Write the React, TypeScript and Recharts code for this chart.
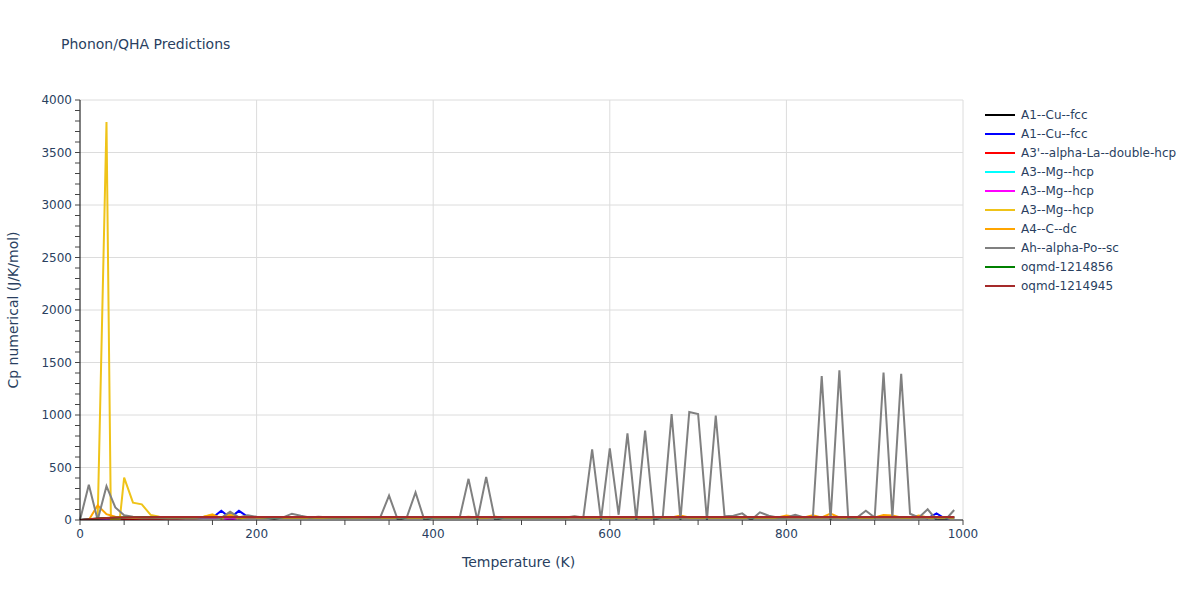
import React from 'react';
import { LineChart, Line, XAxis, YAxis, CartesianGrid } from 'recharts';

// Temperatures (K)
const temperatures = [
  0, 10, 20, 30, 40, 50, 60, 70, 80, 90,
  100, 110, 120, 130, 140, 150, 160, 170, 180, 190,
  200, 210, 220, 230, 240, 250, 260, 270, 280, 290,
  300, 310, 320, 330, 340, 350, 360, 370, 380, 390,
  400, 410, 420, 430, 440, 450, 460, 470, 480, 490,
  500, 510, 520, 530, 540, 550, 560, 570, 580, 590,
  600, 610, 620, 630, 640, 650, 660, 670, 680, 690,
  700, 710, 720, 730, 740, 750, 760, 770, 780, 790,
  800, 810, 820, 830, 840, 850, 860, 870, 880, 890,
  900, 910, 920, 930, 940, 950, 960, 970, 980, 990,
];

const cuFccA = [
  0, 4, 10, 15, 19, 21, 22, 23, 23, 24,
  24, 24, 24, 24, 24, 24, 24, 24, 24, 24,
  24, 24, 24, 24, 24, 24, 24, 24, 24, 24,
  24, 24, 24, 24, 24, 24, 24, 24, 24, 24,
  24, 24, 24, 24, 24, 24, 24, 24, 24, 24,
  24, 24, 24, 24, 24, 24, 24, 24, 24, 24,
  24, 24, 24, 24, 24, 24, 24, 24, 24, 24,
  24, 24, 24, 24, 24, 24, 24, 24, 24, 24,
  24, 24, 24, 24, 24, 24, 24, 24, 24, 24,
  24, 24, 24, 24, 24, 24, 24, 24, 24, 24,
];

const cuFccB = [
  0, 5, 11, 16, 19, 21, 22, 23, 23, 24,
  24, 24, 24, 24, 24, 22, 88, 20, 87, 30,
  24, 24, 24, 24, 24, 24, 24, 24, 24, 24,
  24, 24, 24, 24, 24, 24, 24, 24, 24, 24,
  24, 24, 24, 24, 24, 24, 24, 24, 24, 24,
  24, 24, 24, 24, 24, 24, 24, 24, 24, 24,
  24, 24, 24, 24, 24, 24, 24, 24, 24, 24,
  24, 24, 24, 24, 24, 24, 24, 24, 24, 24,
  24, 24, 24, 24, 24, 24, 24, 24, 24, 24,
  24, 24, 24, 24, 24, 24, 16, 63, 12, 24,
];

const laDhcp = [
  0, 1, 3, 5, 7, 9, 10, 11, 12, 13,
  14, 15, 16, 17, 18, 19, 19, 20, 20, 21,
  21, 21, 22, 22, 22, 23, 23, 23, 23, 23,
  24, 24, 24, 24, 24, 24, 24, 24, 24, 24,
  24, 24, 24, 24, 24, 24, 24, 24, 24, 24,
  24, 24, 24, 24, 24, 24, 24, 24, 24, 24,
  24, 24, 24, 24, 24, 24, 24, 24, 24, 24,
  24, 24, 24, 24, 24, 24, 24, 24, 24, 24,
  24, 24, 24, 24, 24, 24, 24, 24, 24, 24,
  24, 24, 24, 24, 24, 24, 24, 24, 24, 24,
];

const mgHcpA = [
  0, 3, 8, 13, 17, 19, 21, 22, 23, 23,
  24, 24, 24, 24, 24, 24, 24, 24, 24, 24,
  24, 24, 24, 24, 24, 24, 24, 24, 24, 24,
  24, 24, 24, 24, 24, 24, 24, 24, 24, 24,
  24, 24, 24, 24, 24, 24, 24, 24, 24, 24,
  24, 24, 24, 24, 24, 24, 24, 24, 24, 24,
  24, 24, 24, 24, 24, 24, 24, 24, 24, 24,
  24, 24, 24, 24, 24, 24, 24, 24, 24, 24,
  24, 24, 24, 24, 24, 24, 24, 24, 24, 24,
  24, 24, 24, 24, 24, 24, 24, 24, 24, 24,
];

const mgHcpB = [
  0, 3, 8, 13, 17, 19, 21, 22, 23, 23,
  24, 24, 24, 24, 24, 22, 20, 5, 20, 24,
  24, 24, 24, 24, 24, 24, 24, 24, 24, 24,
  24, 24, 24, 24, 24, 24, 24, 24, 24, 24,
  24, 24, 24, 24, 24, 24, 24, 24, 24, 24,
  24, 24, 24, 24, 24, 24, 24, 24, 24, 24,
  24, 24, 24, 24, 24, 24, 24, 24, 24, 24,
  24, 24, 24, 24, 24, 24, 24, 24, 24, 24,
  24, 24, 24, 24, 24, 24, 24, 24, 24, 24,
  24, 24, 24, 24, 24, 24, 24, 24, 24, 24,
];

// the third A3--Mg--hcp run has a few extra low-temperature points
const mgHcpCTemps = [
  0, 10, 20, 30, 35, 40, 45, 50, 60, 70, 80, 90,
  100, 110, 120, 130, 140, 150, 160, 170, 180, 190,
  200, 300, 400, 500, 600, 700, 800, 900, 990,
];
const mgHcpC = [
  0, 0, 0, 3790, 0, 6, 4, 403, 165, 149, 48, 30,
  27, 26, 25, 25, 32, 55, 12, 60, 22, 28,
  25, 25, 25, 25, 25, 25, 25, 25, 25,
];

const cDc = [
  0, 0, 140, 55, 32, 24, 22, 22, 23, 24,
  24, 24, 24, 26, 30, 48, 20, 45, 15, 26,
  25, 25, 25, 25, 25, 25, 25, 25, 25, 25,
  25, 25, 25, 25, 25, 25, 25, 25, 25, 25,
  25, 25, 25, 25, 32, 25, 25, 30, 25, 25,
  25, 25, 25, 25, 25, 25, 30, 25, 25, 25,
  25, 25, 25, 25, 25, 25, 25, 25, 42, 25,
  25, 25, 25, 25, 25, 25, 25, 25, 25, 25,
  42, 30, 25, 45, 25, 62, 25, 25, 25, 25,
  25, 48, 44, 25, 25, 42, 25, 25, 25, 25,
];

const poSc = [
  0, 335, 0, 322, 120, 45, 30, 25, 25, 24,
  24, 24, 24, 24, 26, 28, 20, 78, 25, 45,
  30, 24, 10, 25, 60, 40, 24, 30, 26, 24,
  24, 26, 26, 24, 24, 232, 0, 24, 262, 0,
  24, 24, 24, 24, 392, 0, 410, 0, 24, 24,
  24, 24, 24, 24, 24, 24, 35, 24, 673, 0,
  683, 50, 825, 0, 851, 0, 30, 1009, 0, 1029,
  1010, 0, 995, 35, 40, 63, 0, 73, 40, 24,
  24, 50, 24, 30, 1372, 0, 1425, 20, 24, 88,
  24, 1404, 20, 1392, 60, 24, 102, 0, 0, 95,
];

const oqmd856 = [
  0, 7, 14, 19, 22, 24, 25, 26, 26, 27,
  27, 27, 27, 27, 27, 27, 27, 27, 27, 27,
  27, 27, 27, 27, 27, 27, 27, 27, 27, 27,
  27, 27, 27, 27, 27, 27, 27, 27, 27, 27,
  27, 27, 27, 27, 27, 27, 27, 27, 27, 27,
  27, 27, 27, 27, 27, 27, 27, 27, 27, 27,
  27, 27, 27, 27, 27, 27, 27, 27, 27, 27,
  27, 27, 27, 27, 27, 27, 27, 27, 27, 27,
  27, 27, 27, 27, 27, 27, 27, 27, 27, 27,
  27, 27, 27, 27, 27, 27, 27, 27, 27, 27,
];

const oqmd945 = [
  0, 8, 15, 20, 23, 25, 26, 27, 27, 28,
  28, 28, 28, 28, 28, 28, 28, 28, 28, 28,
  28, 28, 28, 28, 28, 28, 28, 28, 28, 28,
  28, 28, 28, 28, 28, 28, 28, 28, 28, 28,
  28, 28, 28, 28, 28, 28, 28, 28, 28, 28,
  28, 28, 28, 28, 28, 28, 28, 28, 28, 28,
  28, 28, 28, 28, 28, 28, 28, 28, 28, 28,
  28, 28, 28, 28, 28, 28, 28, 28, 28, 28,
  28, 28, 28, 28, 28, 28, 28, 28, 28, 28,
  28, 28, 28, 28, 28, 28, 28, 28, 28, 28,
];

const series = [
  { name: 'A1--Cu--fcc', color: '#000000', temps: temperatures, values: cuFccA },
  { name: 'A1--Cu--fcc', color: '#0000ff', temps: temperatures, values: cuFccB },
  { name: "A3'--alpha-La--double-hcp", color: '#ff0000', temps: temperatures, values: laDhcp },
  { name: 'A3--Mg--hcp', color: '#00ffff', temps: temperatures, values: mgHcpA },
  { name: 'A3--Mg--hcp', color: '#ff00ff', temps: temperatures, values: mgHcpB },
  { name: 'A3--Mg--hcp', color: '#efc319', temps: mgHcpCTemps, values: mgHcpC },
  { name: 'A4--C--dc', color: '#ffa500', temps: temperatures, values: cDc },
  { name: 'Ah--alpha-Po--sc', color: '#808080', temps: temperatures, values: poSc },
  { name: 'oqmd-1214856', color: '#008000', temps: temperatures, values: oqmd856 },
  { name: 'oqmd-1214945', color: '#a52a2a', temps: temperatures, values: oqmd945 },
];

const xTicks = [0, 50, 100, 150, 200, 250, 300, 350, 400, 450, 500, 550, 600, 650, 700, 750, 800, 850, 900, 950, 1000];
const xGrid = [200, 400, 600, 800, 1000];
const yTicks = [
  0, 100, 200, 300, 400, 500, 600, 700, 800, 900, 1000, 1100, 1200, 1300, 1400, 1500, 1600, 1700, 1800, 1900,
  2000, 2100, 2200, 2300, 2400, 2500, 2600, 2700, 2800, 2900, 3000, 3100, 3200, 3300, 3400, 3500, 3600, 3700,
  3800, 3900, 4000,
];
const yGrid = [500, 1000, 1500, 2000, 2500, 3000, 3500, 4000];

const font = '"DejaVu Sans", Verdana, sans-serif';
const textColor = '#2a3f5f';

const App = () => {
  return (
    <div style={{ position: 'absolute', left: 0, top: 0, width: 1200, height: 600, background: '#fff', fontFamily: font }}>
      <div style={{ position: 'absolute', left: 61, top: 36, fontSize: 14, color: textColor }}>
        Phonon/QHA Predictions
      </div>
      <LineChart width={1200} height={600} margin={{ top: 100, right: 237, bottom: 40, left: 20 }}>
        <CartesianGrid stroke="#dcdcdc" horizontalValues={yGrid} verticalValues={xGrid} />
        <XAxis
          dataKey="T"
          type="number"
          domain={[0, 1000]}
          ticks={xTicks}
          interval={0}
          height={40}
          tickSize={5}
          tickMargin={4}
          stroke="#000"
          tick={{ fontSize: 12, fill: textColor, fontFamily: font }}
          tickLine={{ stroke: '#444' }}
          tickFormatter={(v: number) => (v % 200 === 0 ? String(v) : '')}
          allowDuplicatedCategory={false}
        />
        <YAxis
          type="number"
          domain={[0, 4000]}
          ticks={yTicks}
          interval={0}
          width={60}
          tickSize={5}
          tickMargin={3}
          stroke="#000"
          tick={{ fontSize: 12, fill: textColor, fontFamily: font }}
          tickLine={{ stroke: '#444' }}
          tickFormatter={(v: number) => (v % 500 === 0 ? String(v) : '')}
          allowDataOverflow
        />
        {series.map((s, i) => (
          <Line
            key={i}
            type="linear"
            data={s.temps.map((t, j) => ({ T: t, v: s.values[j] }))}
            dataKey="v"
            name={s.name}
            stroke={s.color}
            strokeWidth={2}
            dot={false}
            isAnimationActive={false}
          />
        ))}
      </LineChart>
      <div style={{ position: 'absolute', left: 462, top: 554, fontSize: 14, color: textColor }}>
        Temperature (K)
      </div>
      <div
        style={{
          position: 'absolute',
          left: 13,
          top: 310,
          fontSize: 14,
          color: textColor,
          whiteSpace: 'nowrap',
          transform: 'translate(-50%, -50%) rotate(-90deg)',
        }}
      >
        Cp numerical (J/K/mol)
      </div>
      <div style={{ position: 'absolute', left: 985, top: 105 }}>
        {series.map((s, i) => (
          <div key={i} style={{ display: 'flex', alignItems: 'center', height: 19 }}>
            <div style={{ width: 30, height: 2, background: s.color }} />
            <span style={{ marginLeft: 6, fontSize: 12, color: textColor, whiteSpace: 'nowrap' }}>{s.name}</span>
          </div>
        ))}
      </div>
    </div>
  );
};

export default App;
